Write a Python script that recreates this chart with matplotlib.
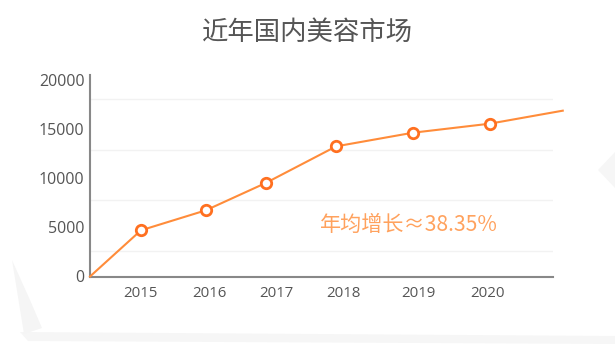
import matplotlib.pyplot as plt
from matplotlib.patches import Polygon

# -----------------------------
# Data
# -----------------------------
years = ["2015", "2016", "2017", "2018", "2019", "2020"]
# x positions (in year units) where each point sits on the original chart
x_points = [2014.27, 2015.0, 2015.93, 2016.79, 2017.80, 2018.90, 2020.0, 2021.05]
market = [0, 4710, 6750, 9540, 13280, 14670, 15590, 16920]
x_ticks = [2015.0, 2015.98, 2016.94, 2017.90, 2018.98, 2019.97]
y_ticks = [0, 5000, 10000, 15000, 20000]
grid_vals = [2600, 7800, 12950, 18100]
title = "近年国内美容市场"
note = "年均增长≈38.35%"

plt.rcParams['font.family'] = ['Open Sans', 'Noto Sans CJK SC', 'DejaVu Sans']

fig = plt.figure(figsize=(6.15, 3.51), dpi=100)
fig.patch.set_facecolor("white")

# -----------------------------
# Paper-curl decoration
# -----------------------------
bg = fig.add_axes([0, 0, 1, 1], zorder=-5)
bg.set_xlim(0, 615)
bg.set_ylim(351, 0)
bg.axis("off")
bg.add_patch(Polygon([[20, 332], [615, 336], [615, 344], [28, 341]],
                     closed=True, fc="#f6f6f6", ec="none"))
bg.add_patch(Polygon([[12, 260], [30, 300], [42, 328], [24, 334]],
                     closed=True, fc="#f5f5f5", ec="none"))
bg.add_patch(Polygon([[598, 170], [615, 152], [615, 188]],
                     closed=True, fc="#f6f6f6", ec="none"))

# -----------------------------
# Main chart
# -----------------------------
ax = fig.add_axes([90 / 615, 74.5 / 351, 463 / 615, 201.5 / 351])
ax.set_xlim(2014.27, 2020.91)
ax.set_ylim(0, 20560)

for g in grid_vals:
    ax.axhline(g, color="#f2f2f2", lw=1, zorder=0)

ax.plot(x_points, market, color="#ff8c3a", lw=1.5, clip_on=False, zorder=3)
ax.plot(x_points[1:-1], market[1:-1], ls="none", marker="o", ms=7.5,
        mfc="white", mec="#ff7020", mew=2, clip_on=False, zorder=4)

for s in ["top", "right"]:
    ax.spines[s].set_visible(False)
for s in ["left", "bottom"]:
    ax.spines[s].set_color("#888888")
    ax.spines[s].set_linewidth(1.5)

ax.set_xticks(x_ticks)
ax.set_xticklabels(years)
ax.set_yticks(y_ticks)
ax.set_yticklabels([str(v) for v in y_ticks])
ax.tick_params(axis="x", length=0, pad=7, labelsize=10.8, labelcolor="#555555")
ax.tick_params(axis="y", length=0, pad=4, labelsize=11.5, labelcolor="#555555")

ax.text(2017.57, 5250, note, color="#ffa25e", fontsize=15.2,
        family=['Noto Sans CJK SC', 'DejaVu Sans'], va="center", ha="left")

fig.text(307.5 / 615, 1 - 32 / 351, title, ha="center", va="center",
         fontsize=19, color="#555555", family=['Noto Sans CJK SC', 'DejaVu Sans'])

fig.savefig("out.png", dpi=100)
